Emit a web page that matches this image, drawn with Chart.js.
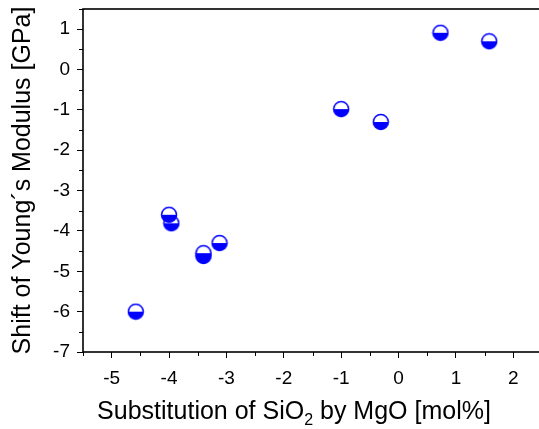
<!DOCTYPE html>
<html>
<head>
<meta charset="utf-8">
<script src="https://cdn.jsdelivr.net/npm/chart.js@4.4.0/dist/chart.umd.min.js"></script>
<style>
  html, body { margin: 0; padding: 0; background: #fff; overflow: hidden; }
  #chart { display: block; }
</style>
</head>
<body>
<canvas id="chart" width="551" height="429"></canvas>
<script>
// substitution of SiO2 by MgO [mol%] vs. shift of Young's modulus [GPa]
const substitution = [-4.58, -3.96, -4.0, -3.40, -3.40, -3.12, -1.00, -0.31, 0.73, 1.58]
const modulusShift = [-6.0, -3.81, -3.6, -4.62, -4.55, -4.30, -0.98, -1.30, 0.91, 0.70]

const xTicks = [-5, -4, -3, -2, -1, 0, 1, 2]
const yTicks = [-7, -6, -5, -4, -3, -2, -1, 0, 1]
const xMinor = [-5.5, -4.5, -3.5, -2.5, -1.5, -0.5, 0.5, 1.5, 2.5]
const yMinor = [-6.5, -5.5, -4.5, -3.5, -2.5, -1.5, -0.5, 0.5, 1.5]

const BLUE = "#0000ff"
const FONT = "'Liberation Sans', Arial, sans-serif"

// half-filled circle marker: white top, blue bottom
function halfCircle(r) {
  const c = document.createElement("canvas")
  const size = Math.ceil(r * 2 + 3)
  c.width = size
  c.height = size
  const ctx = c.getContext("2d")
  const m = size / 2
  ctx.fillStyle = "#fff"
  ctx.beginPath()
  ctx.arc(m, m, r, Math.PI, 2 * Math.PI)
  ctx.fill()
  ctx.fillStyle = BLUE
  ctx.beginPath()
  ctx.arc(m, m, r, 0, Math.PI)
  ctx.closePath()
  ctx.fill()
  ctx.strokeStyle = BLUE
  ctx.lineWidth = 1.5
  ctx.beginPath()
  ctx.arc(m, m, r, 0, 2 * Math.PI)
  ctx.stroke()
  return c
}

const marker = halfCircle(7.5)

// no extra room for the outermost tick labels
function noLabelPadding(axis) {
  axis.paddingTop = 0
  axis.paddingBottom = 0
  axis.paddingLeft = 0
  axis.paddingRight = 0
}

// frame, minor ticks and the x title with its subscript
const decorations = {
  id: "decorations",
  afterDraw(chart) {
    const { ctx, chartArea: a, scales } = chart
    ctx.save()
    ctx.strokeStyle = "#000"
    ctx.lineWidth = 1.6
    ctx.strokeRect(a.left, a.top, a.right - a.left, a.bottom - a.top)

    ctx.lineWidth = 1
    ctx.beginPath()
    xMinor.forEach((v) => {
      const px = Math.round(scales.x.getPixelForValue(v)) + 0.5
      ctx.moveTo(px, a.bottom)
      ctx.lineTo(px, a.bottom + 4)
    })
    yMinor.forEach((v) => {
      const py = Math.round(scales.y.getPixelForValue(v)) + 0.5
      ctx.moveTo(a.left, py)
      ctx.lineTo(a.left - 4, py)
    })
    ctx.stroke()

    // "Substitution of SiO2 by MgO [mol%]"
    const parts = [
      { t: "Substitution of SiO", size: 25, dy: 0 },
      { t: "2", size: 16, dy: 6 },
      { t: " by MgO [mol%]", size: 25, dy: 0 },
    ]
    let total = 0
    parts.forEach((p) => {
      ctx.font = p.size + "px " + FONT
      p.w = ctx.measureText(p.t).width
      total += p.w
    })
    let x = 294 - total / 2
    const base = 419
    ctx.fillStyle = "#000"
    ctx.textBaseline = "alphabetic"
    ctx.textAlign = "left"
    parts.forEach((p) => {
      ctx.font = p.size + "px " + FONT
      ctx.fillText(p.t, x, base + p.dy)
      x += p.w
    })
    ctx.restore()
  },
}

new Chart(document.getElementById("chart"), {
  type: "scatter",
  data: {
    datasets: [
      {
        data: substitution.map((x, i) => ({ x, y: modulusShift[i] })),
        pointStyle: marker,
        pointRadius: 8,
        pointHoverRadius: 8,
      },
    ],
  },
  options: {
    responsive: false,
    animation: false,
    layout: { padding: { top: 8, right: 3, left: 0, bottom: 0 } },
    plugins: { legend: { display: false }, tooltip: { enabled: false } },
    scales: {
      x: {
        type: "linear",
        min: -5.5,
        max: 2.5,
        afterBuildTicks: (axis) => { axis.ticks = xTicks.map((v) => ({ value: v })) },
        afterFit: (axis) => { axis.height = 77; noLabelPadding(axis) },
        border: { display: false },
        grid: { drawOnChartArea: false, drawTicks: true, tickLength: 6, color: "#000", lineWidth: 1 },
        ticks: { color: "#000", padding: 9, maxRotation: 0, font: { family: FONT, size: 19 } },
      },
      y: {
        type: "linear",
        min: -7,
        max: 1.5,
        afterBuildTicks: (axis) => { axis.ticks = yTicks.map((v) => ({ value: v })) },
        afterFit: (axis) => { axis.width = 83; noLabelPadding(axis) },
        border: { display: false },
        grid: { drawOnChartArea: false, drawTicks: true, tickLength: 6, color: "#000", lineWidth: 1 },
        ticks: { color: "#000", padding: 7, font: { family: FONT, size: 19 } },
        title: {
          display: true,
          text: "Shift of Young´s Modulus [GPa]",
          color: "#000",
          font: { family: FONT, size: 25 },
          padding: { top: 8, bottom: 0 },
        },
      },
    },
  },
  plugins: [decorations],
})
</script>
</body>
</html>
